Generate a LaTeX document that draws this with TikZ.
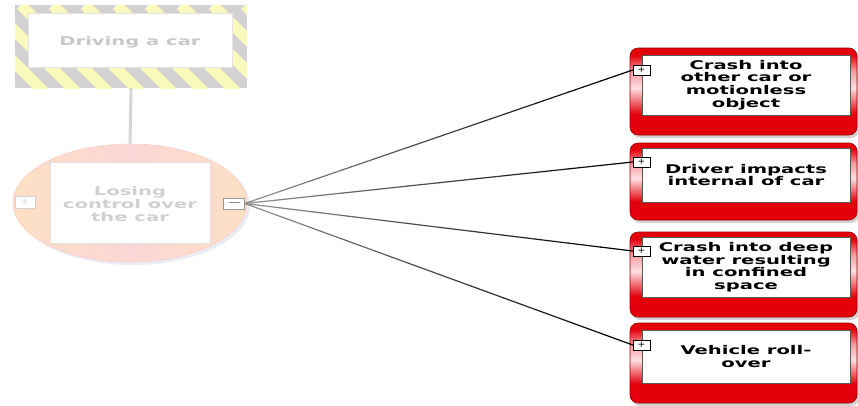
\documentclass[tikz,border=0pt]{standalone}
\usepackage{fontspec}
\setsansfont{DejaVu Sans}
\usetikzlibrary{calc, positioning, shapes.geometric, shadows}

\definecolor{alarm}{RGB}{228,0,10}
\definecolor{alarmrim}{RGB}{150,0,0}
\definecolor{fadegray}{RGB}{210,210,210}
\definecolor{fadeyellow}{RGB}{250,250,188}
\definecolor{fadetext}{RGB}{200,200,200}
\definecolor{ringpink}{RGB}{251,214,214}
\definecolor{ringpeach}{RGB}{253,224,196}

\pgfdeclareverticalshading{redframe}{100bp}{color(0bp)=(alarm); color(37bp)=(alarm); color(52bp)=(alarm!12!white); color(62bp)=(alarm!40!white); color(71bp)=(alarm); color(100bp)=(alarm)}

\tikzset{
  boxtext/.style={font=\sffamily\bfseries\fontsize{12}{12.6}\selectfont, align=center, xscale=1.63, inner sep=0pt},
  alarmframe/.style={rectangle, rounded corners=8pt, shading=redframe, draw=alarmrim, line width=0.6pt,
    drop shadow={shadow xshift=2pt, shadow yshift=-3pt, opacity=0.35}},
  whitebox/.style={rectangle, fill=white, draw=black!65, line width=0.7pt},
  toggle/.style={rectangle, fill=white, draw=black, line width=0.5pt, inner sep=0pt,
    minimum width=17pt, minimum height=10pt, font=\sffamily\fontsize{9}{9}\selectfont},
  link/.style={line width=1.2pt, line cap=round},
  stem/.style={line width=3pt, fadegray!90},
}

\begin{document}
\begin{tikzpicture}[x=1pt, y=-1pt]
  \useasboundingbox (0,0) rectangle (858,405);

  % top event: hazard striped frame
  \node[rectangle, minimum width=232pt, minimum height=83pt, fill=fadegray,
    path picture={
      \foreach \s in {-90,-58,...,250}
        \draw[fadeyellow, line width=11pt] ($(path picture bounding box.north west)+(\s,0)$) -- ++(90,90);
    }] (drive) at (131,46.5) {};
  \node[rectangle, fill=white, draw=fadegray!60, minimum width=204pt, minimum height=54pt] (drive-in) at (130,40) {};
  \node[boxtext, text=fadetext] (drive-txt) at (130,42) {Driving a car};

  % hazard ring
  \node[ellipse, minimum width=234pt, minimum height=118pt, left color=ringpeach, right color=ringpeach,
    middle color=ringpink, draw=ringpink!80!red!60, line width=0.6pt,
    drop shadow={shadow xshift=3pt, shadow yshift=-3pt, opacity=0.12, fill=blue!30!gray}] (lose-ring) at (130,203) {};
  \draw[stem] (drive.south) -- (lose-ring.north);
  \node[rectangle, fill=white, draw=fadegray!70, minimum width=160pt, minimum height=81pt] (lose) at (130,203) {};
  \node[boxtext, text=fadetext!85!white] (lose-txt) at (130,204) {Losing\\control over\\the car};
  \node[toggle, draw=fadegray, text=fadegray, minimum width=20pt, minimum height=12pt] (lose-plus) at (25,202) {+};
  \node[toggle, draw=black!40, text=black!45, minimum width=21pt, minimum height=11pt] (lose-minus) at (234,203.5) {\rule[2.5pt]{11pt}{0.6pt}};

  % consequences
  \foreach \n/\fy/\fh/\iy/\ih/\py/\txt in {
      c1/91.5/87/85/60/70/{Crash into\\other car or\\motionless\\object},
      c2/181.5/77/175/54/162/{Driver impacts\\internal of car},
      c3/274.5/85/267/60/251/{Crash into deep\\water resulting\\in confined\\space},
      c4/363/80/356.5/53/345/{Vehicle roll-\\over}} {
    \node[alarmframe, minimum width=227pt, minimum height=\fh pt] (\n-frame) at (743.5,\fy) {};
    \node[whitebox, minimum width=208pt, minimum height=\ih pt] (\n-box) at (746,\iy) {};
    \node[boxtext] (\n) at (746,\iy) {\txt};
    \node[toggle] (\n-plus) at (641.5,\py) {+};
  }

  % connectors, darkening towards the consequences
  \foreach \c in {c1,c2,c3,c4}
    \foreach \i in {0,...,11} {
      \pgfmathsetmacro\ta{\i/12}
      \pgfmathsetmacro\tb{(\i+1)/12}
      \pgfmathtruncatemacro\tone{45+5*\i}
      \draw[link, black!\tone] ($(lose-minus.east)!\ta!(\c-plus.west)$) -- ($(lose-minus.east)!\tb!(\c-plus.west)$);
    }
\end{tikzpicture}
\end{document}
